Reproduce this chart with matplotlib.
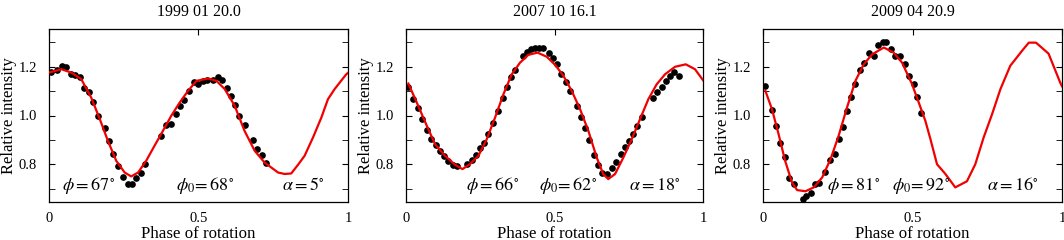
import numpy as np
import matplotlib
matplotlib.use('Agg')
import matplotlib.pyplot as plt
from matplotlib.ticker import MultipleLocator

plt.rcParams['font.family'] = ['Liberation Serif', 'DejaVu Serif']
plt.rcParams['mathtext.fontset'] = 'stix'

titles = ['1999 01 20.0', '2007 10 16.1', '2009 04 20.9']
notes = [('67', '68', '5'), ('66', '62', '18'), ('81', '92', '16')]

# observed points (phase, relative intensity)
obs1_x = [0.006, 0.028, 0.043, 0.058, 0.073, 0.088, 0.105, 0.117, 0.134, 0.147,
          0.164, 0.186, 0.200, 0.214, 0.231, 0.247, 0.264, 0.278, 0.292, 0.309,
          0.322, 0.376, 0.392, 0.407, 0.424, 0.437, 0.452, 0.468, 0.484, 0.497,
          0.515, 0.530, 0.547, 0.564, 0.578, 0.595, 0.608, 0.623, 0.637, 0.654,
          0.682, 0.695, 0.712, 0.725]
obs1_y = [1.179, 1.186, 1.204, 1.201, 1.172, 1.165, 1.160, 1.111, 1.097, 1.057,
          0.999, 0.947, 0.896, 0.844, 0.791, 0.749, 0.718, 0.718, 0.743, 0.764,
          0.800, 0.917, 0.962, 0.967, 1.008, 1.040, 1.063, 1.101, 1.138, 1.131,
          1.141, 1.147, 1.147, 1.156, 1.145, 1.113, 1.082, 1.044, 1.000, 0.962,
          0.900, 0.861, 0.836, 0.806]

obs2_x = [0.008, 0.025, 0.041, 0.055, 0.072, 0.084, 0.100, 0.114, 0.128, 0.143,
          0.157, 0.173, 0.204, 0.221, 0.236, 0.249, 0.263, 0.277, 0.294, 0.311,
          0.326, 0.339, 0.354, 0.367, 0.395, 0.408, 0.421, 0.434, 0.448, 0.460,
          0.481, 0.496, 0.508, 0.522, 0.538, 0.552, 0.575, 0.589, 0.603, 0.616,
          0.634, 0.648, 0.661, 0.678, 0.693, 0.707, 0.723, 0.737, 0.751, 0.765,
          0.779, 0.796, 0.831, 0.846, 0.861, 0.875, 0.889, 0.903, 0.919]
obs2_y = [1.115, 1.067, 1.029, 0.985, 0.941, 0.903, 0.878, 0.855, 0.835, 0.814,
          0.798, 0.794, 0.800, 0.817, 0.837, 0.865, 0.889, 0.924, 0.971, 1.019,
          1.070, 1.115, 1.156, 1.187, 1.245, 1.262, 1.272, 1.279, 1.279, 1.276,
          1.258, 1.235, 1.210, 1.169, 1.139, 1.101, 1.040, 0.992, 0.947, 0.900,
          0.837, 0.796, 0.764, 0.760, 0.783, 0.810, 0.841, 0.869, 0.896, 0.926,
          0.958, 0.992, 1.071, 1.097, 1.118, 1.142, 1.163, 1.179, 1.163]

obs3_x = [0.008, 0.030, 0.045, 0.058, 0.073, 0.088, 0.103, 0.133, 0.145, 0.161,
          0.175, 0.188, 0.208, 0.225, 0.240, 0.253, 0.267, 0.281, 0.295, 0.309,
          0.323, 0.339, 0.356, 0.370, 0.385, 0.400, 0.412, 0.429, 0.442, 0.457,
          0.474, 0.487, 0.504, 0.515, 0.530]
obs3_y = [1.122, 1.022, 0.958, 0.889, 0.828, 0.743, 0.718, 0.657, 0.671, 0.680,
          0.718, 0.725, 0.770, 0.817, 0.844, 0.903, 0.954, 1.019, 1.074, 1.128,
          1.187, 1.217, 1.258, 1.245, 1.290, 1.303, 1.303, 1.272, 1.245, 1.245,
          1.213, 1.163, 1.128, 1.077, 1.012]

# model curves
mod1_x = [0.0, 0.041, 0.075, 0.108, 0.141, 0.170, 0.197, 0.225, 0.253, 0.275,
          0.298, 0.325, 0.353, 0.381, 0.409, 0.437, 0.465, 0.493, 0.532, 0.560,
          0.588, 0.621, 0.654, 0.688, 0.721, 0.766, 0.788, 0.810, 0.833, 0.855,
          0.883, 0.911, 0.933, 0.955, 0.994, 1.0]
mod1_y = [1.176, 1.190, 1.176, 1.149, 1.074, 0.985, 0.896, 0.814, 0.766, 0.750,
          0.766, 0.814, 0.876, 0.937, 0.999, 1.053, 1.101, 1.142, 1.152, 1.142,
          1.108, 1.040, 0.937, 0.855, 0.807, 0.766, 0.760, 0.762, 0.798, 0.835,
          0.910, 0.992, 1.067, 1.108, 1.169, 1.175]

mod2_x = [0.008, 0.041, 0.070, 0.098, 0.131, 0.165, 0.190, 0.215, 0.244, 0.272,
          0.300, 0.328, 0.356, 0.384, 0.412, 0.443, 0.474, 0.502, 0.530, 0.558,
          0.586, 0.614, 0.642, 0.664, 0.681, 0.704, 0.732, 0.760, 0.788, 0.816,
          0.844, 0.872, 0.906, 0.942, 0.973, 1.0]
mod2_y = [1.131, 1.040, 0.958, 0.882, 0.835, 0.798, 0.780, 0.800, 0.835, 0.903,
          0.992, 1.087, 1.169, 1.217, 1.249, 1.258, 1.241, 1.208, 1.163, 1.101,
          1.026, 0.937, 0.828, 0.760, 0.739, 0.760, 0.828, 0.903, 0.985, 1.067,
          1.128, 1.169, 1.200, 1.210, 1.190, 1.145]

mod3_x = [0.008, 0.030, 0.052, 0.074, 0.097, 0.114, 0.142, 0.170, 0.198, 0.226,
          0.253, 0.281, 0.309, 0.337, 0.365, 0.404, 0.437, 0.465, 0.498, 0.521,
          0.543, 0.560, 0.582, 0.610, 0.643, 0.682, 0.710, 0.738, 0.766, 0.794,
          0.827, 0.866, 0.889, 0.913, 0.955, 0.994, 1.0]
mod3_y = [1.101, 1.026, 0.924, 0.814, 0.725, 0.694, 0.689, 0.705, 0.746, 0.821,
          0.917, 1.033, 1.142, 1.210, 1.251, 1.279, 1.258, 1.217, 1.130, 1.053,
          0.978, 0.903, 0.800, 0.760, 0.705, 0.730, 0.800, 0.910, 1.005, 1.108,
          1.204, 1.265, 1.299, 1.299, 1.254, 1.135, 1.120]

obs = [(obs1_x, obs1_y), (obs2_x, obs2_y), (obs3_x, obs3_y)]
mods = [(mod1_x, mod1_y), (mod2_x, mod2_y), (mod3_x, mod3_y)]
note_x = [(0.043, 0.424, 0.778), (0.202, 0.448, 0.751), (0.213, 0.430, 0.748)]

fig = plt.figure(figsize=(10.64, 2.4), dpi=100)
lefts = [49 / 1064, 406 / 1064, 763 / 1064]
widths = [299 / 1064, 297 / 1064, 299 / 1064]

for i in range(3):
    ax = fig.add_axes([lefts[i], 38 / 240, widths[i], 173 / 240])
    ax.plot(obs[i][0], obs[i][1], 'o', color='black', markersize=3.8, zorder=2)
    ax.plot(mods[i][0], mods[i][1], '-', color='#f00000', lw=1.6, zorder=3)
    ax.set_xlim(0, 1)
    ax.set_ylim(0.645, 1.355)
    ax.set_xticks([0, 0.5, 1])
    ax.set_xticklabels(['0', '0.5', '1'])
    ax.set_yticks([0.8, 1.0, 1.2])
    ax.set_yticklabels(['0.8', '1.0', '1.2'])
    ax.yaxis.set_minor_locator(MultipleLocator(0.1))
    ax.tick_params(axis='x', which='both', direction='in', bottom=False, top=True,
                   labelbottom=True, length=4, labelsize=10.5, pad=7)
    ax.tick_params(axis='y', which='both', direction='in', left=True, right=True,
                   length=4, labelsize=10.5, pad=8.5)
    ax.tick_params(axis='y', which='minor', length=4)
    for s in ax.spines.values():
        s.set_linewidth(0.9)
    ax.set_title(titles[i], fontsize=11.5, pad=9)
    ax.set_xlabel('Phase of rotation', fontsize=12.2, labelpad=1)
    ax.set_ylabel('Relative intensity', fontsize=12, labelpad=1)
    a, b, c = notes[i]
    ax.text(note_x[i][0], 0.694, r'$\phi = %s^{\circ}$' % a, fontsize=13)
    ax.text(note_x[i][1], 0.694, r'$\phi_0\!= %s^{\circ}$' % b, fontsize=13)
    ax.text(note_x[i][2], 0.694, r'$\alpha = %s^{\circ}$' % c, fontsize=13)

fig.savefig('out.png', dpi=100)
